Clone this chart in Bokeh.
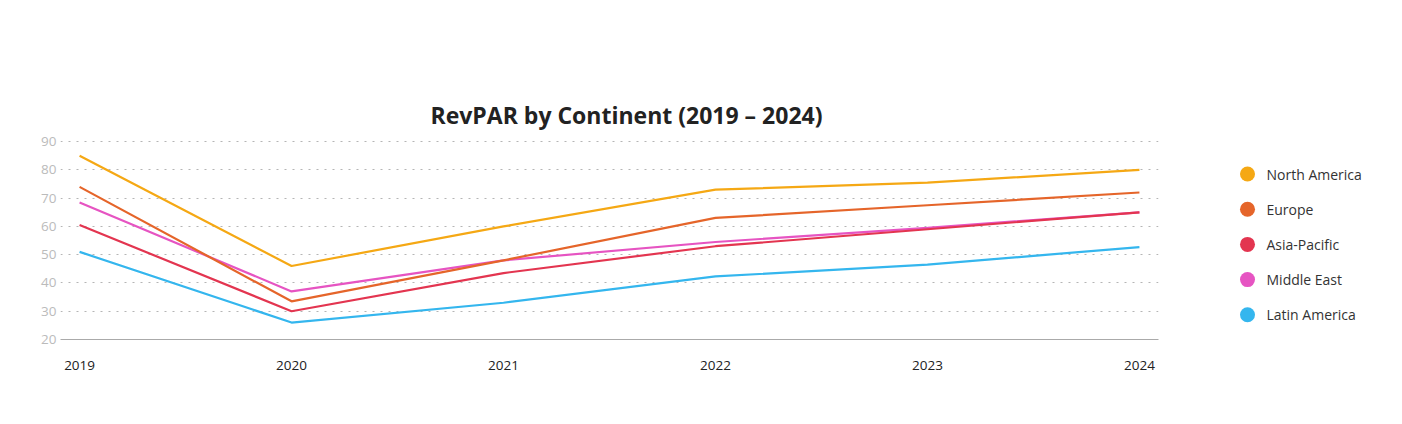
from bokeh.plotting import figure
from bokeh.layouts import row
from bokeh.models import Range1d, FixedTicker, Title
from bokeh.core.properties import value
from bokeh.embed import file_html
from bokeh.resources import INLINE

years = [2019, 2020, 2021, 2022, 2023, 2024]
series_names = ["North America", "Europe", "Asia-Pacific", "Middle East", "Latin America"]
north_america = [85, 46, 60, 73, 75.5, 80]
europe = [74, 33.5, 48, 63, 67.5, 72]
asia_pacific = [60.5, 30, 43.5, 53, 59, 65]
middle_east = [68.5, 37, 48, 54.5, 59.5, 65]
latin_america = [51, 26, 33, 42.3, 46.5, 52.7]
colors = ["#F5A814", "#E5652A", "#E33550", "#E654C2", "#34B6EE"]
y_ticks = [20, 30, 40, 50, 60, 70, 80, 90]

all_series = [north_america, europe, asia_pacific, middle_east, latin_america]

FONT = "Open Sans"
H = 385

p = figure(width=1168, height=H, output_backend="svg", toolbar_location=None,
           x_range=Range1d(2018.91, 2024.09), y_range=Range1d(20, 90.4),
           min_border_left=60, min_border_right=10, min_border_top=140, min_border_bottom=46)
p.outline_line_color = None
p.background_fill_color = "white"
p.border_fill_color = "white"

for vals, col in zip(all_series[::-1], colors[::-1]):
    p.line(years, vals, line_color=col, line_width=2.2)

p.add_layout(Title(text="RevPAR by Continent (2019 – 2024)", align="left",
                   text_font=FONT, text_font_size="23px", text_font_style="bold",
                   text_color="#222222", offset=370, standoff=19), "above")

p.xaxis.ticker = FixedTicker(ticks=years)
p.xaxis.axis_line_color = "#aaaaaa"
p.xaxis.major_tick_line_color = None
p.xaxis.minor_tick_line_color = None
p.xaxis.major_tick_out = 0
p.xaxis.major_tick_in = 0
p.xaxis.minor_tick_out = 0
p.xaxis.major_label_standoff = 21
p.xaxis.major_label_text_font = FONT
p.xaxis.major_label_text_font_size = "13.5px"
p.xaxis.major_label_text_color = "#222222"

p.yaxis.ticker = FixedTicker(ticks=y_ticks)
p.yaxis.axis_line_color = None
p.yaxis.major_tick_line_color = None
p.yaxis.minor_tick_line_color = None
p.yaxis.major_tick_out = 0
p.yaxis.major_tick_in = 0
p.yaxis.minor_tick_out = 0
p.yaxis.major_label_standoff = 4
p.yaxis.major_label_text_font = FONT
p.yaxis.major_label_text_font_size = "13.5px"
p.yaxis.major_label_text_color = "#bbbbbb"

p.xgrid.grid_line_color = None
p.ygrid.grid_line_color = "#b5b5b5"
p.ygrid.grid_line_dash = "2 6"
p.ygrid.grid_line_width = 1

# legend panel (its frame is aligned with the main plot frame: page y 140..339)
lg = figure(width=218, height=H, output_backend="svg", toolbar_location=None,
            x_range=Range1d(0, 218), y_range=Range1d(339, 140),
            min_border_left=0, min_border_right=0, min_border_top=140, min_border_bottom=46)
lg.outline_line_color = None
lg.axis.visible = False
lg.grid.grid_line_color = None
n = len(series_names)
lx = [79] * n
ly = [173.5 + 35.2 * i for i in range(n)]
lg.scatter(lx, ly, size=15, fill_color=colors, line_color=None)
lg.text([x + 19 for x in lx], ly, text=series_names, text_font=value(FONT),
        text_font_size="14px", text_color="#333333", text_baseline="middle")

layout = row(p, lg)
open("out.html", "w").write(file_html(layout, INLINE))
